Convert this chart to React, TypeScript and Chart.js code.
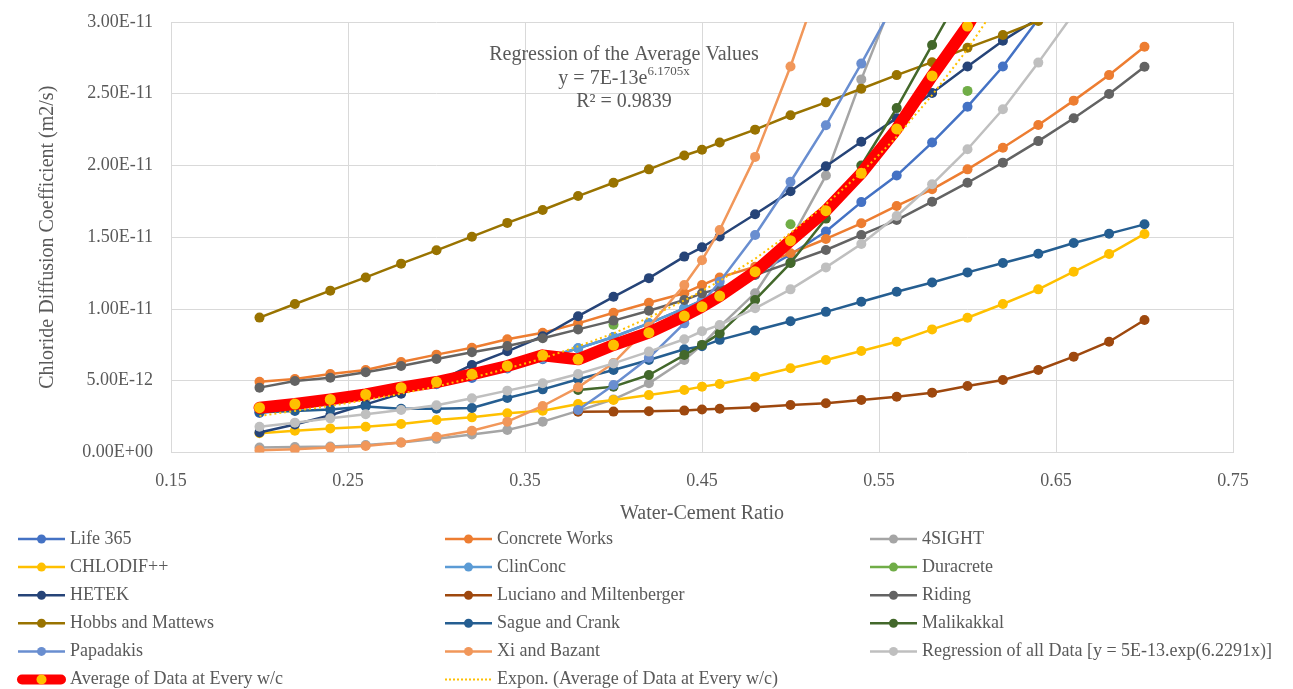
import React, { useEffect, useRef } from "react";
import { Chart, registerables } from "chart.js";
Chart.register(...registerables);

// Water-cement ratios (x values of every series)
const wc = [0.2, 0.22, 0.24, 0.26, 0.28, 0.3, 0.32, 0.34, 0.36, 0.38, 0.4, 0.42, 0.44, 0.45, 0.46, 0.48, 0.5, 0.52, 0.54, 0.56, 0.58, 0.6, 0.62, 0.64, 0.66, 0.68, 0.7];

// Chloride diffusion coefficient values, in units of 1E-12 m2/s
const UNIT = 1e-12;
const life365 = [2.75, 3.05, 3.4, 3.8, 4.25, 4.75, 5.2, 5.85, 6.5, 7.26, 8.05, 9.0, 10.05, 10.6, 11.2, 12.4, 13.8, 15.4, 17.45, 19.3, 21.6, 24.1, 26.9, 30.2, null, null, null];
const concreteWorks = [4.93, 5.12, 5.47, 5.75, 6.31, 6.82, 7.3, 7.89, 8.35, 9.0, 9.74, 10.44, 11.1, 11.67, 12.2, 12.95, 13.88, 14.88, 15.97, 17.18, 18.34, 19.73, 21.24, 22.82, 24.52, 26.3, 28.28];
const fourSight = [0.35, 0.38, 0.42, 0.52, 0.7, 0.95, 1.25, 1.57, 2.15, 2.9, 3.7, 4.82, 6.45, 7.5, 8.77, 11.1, 14.8, 19.3, 26.0, 32.2, null, null, null, null, null, null, null];
const chlodif = [1.34, 1.52, 1.68, 1.8, 1.99, 2.26, 2.45, 2.73, 2.91, 3.38, 3.66, 4.0, 4.36, 4.59, 4.77, 5.28, 5.87, 6.45, 7.07, 7.72, 8.58, 9.39, 10.35, 11.37, 12.6, 13.83, 15.23];
const clinConc = [2.9, 3.2, 3.55, 3.95, 4.4, 4.85, 5.35, 5.9, 6.55, 7.26, 8.05, 9.0, 10.05, 10.6, null, null, null, null, null, null, null, null, null, null, null, null, null];
const duracrete = [null, null, null, null, null, null, null, null, null, null, 8.9, null, null, null, null, null, 15.9, null, null, null, null, 25.2, null, null, null, null, null];
const hetek = [1.4, 1.95, 2.6, 3.35, 4.1, 4.9, 6.1, 7.05, 8.1, 9.5, 10.85, 12.15, 13.65, 14.3, 15.05, 16.6, 18.2, 19.95, 21.65, 23.3, 25.05, 26.9, 28.7, 30.25, null, null, null];
const luciano = [null, null, null, null, null, null, null, null, null, 2.84, 2.85, 2.88, 2.92, 3.0, 3.05, 3.15, 3.31, 3.43, 3.66, 3.89, 4.17, 4.63, 5.05, 5.75, 6.68, 7.72, 9.23];
const riding = [4.52, 4.98, 5.21, 5.59, 6.03, 6.52, 6.98, 7.42, 7.96, 8.58, 9.19, 9.88, 10.63, 11.09, 11.44, 12.37, 13.23, 14.11, 15.16, 16.2, 17.48, 18.8, 20.2, 21.7, 23.29, 24.98, 26.88];
const hobbs = [9.4, 10.35, 11.28, 12.2, 13.16, 14.09, 15.04, 16.0, 16.9, 17.87, 18.8, 19.73, 20.7, 21.1, 21.6, 22.5, 23.5, 24.4, 25.35, 26.3, 27.2, 28.2, 29.1, 30.07, 31.0, null, null];
const sague = [2.8, 2.9, 3.0, 3.2, 3.05, 3.05, 3.1, 3.8, 4.4, 5.1, 5.75, 6.45, 7.2, 7.4, 7.85, 8.5, 9.15, 9.8, 10.5, 11.2, 11.85, 12.55, 13.2, 13.85, 14.6, 15.25, 15.9];
const malikakkal = [null, null, null, null, null, null, null, null, null, 4.36, 4.59, 5.4, 6.79, 7.5, 8.3, 10.63, 13.2, 16.3, 20.0, 24.0, 28.4, 32.8, null, null, null, null, null];
const papadakis = [null, null, null, null, null, null, null, null, null, 2.96, 4.7, 6.6, 9.0, 10.4, 11.9, 15.16, 18.87, 22.8, 27.1, 31.6, null, null, null, null, null, null, null];
const xiBazant = [0.15, 0.22, 0.34, 0.45, 0.69, 1.1, 1.52, 2.15, 3.24, 4.54, 6.24, 8.77, 11.67, 13.4, 15.5, 20.6, 26.9, 34.0, null, null, null, null, null, null, null, null, null];
const regressionAll = [1.8, 2.08, 2.38, 2.66, 2.96, 3.29, 3.78, 4.31, 4.82, 5.47, 6.21, 7.03, 7.89, 8.45, 8.89, 10.05, 11.37, 12.9, 14.53, 16.48, 18.69, 21.13, 23.92, 27.17, 30.6, null, null];
const average = [3.12, 3.38, 3.7, 4.05, 4.52, 4.91, 5.45, 6.03, 6.77, 6.49, 7.49, 8.35, 9.51, 10.16, 10.9, 12.6, 14.76, 16.85, 19.46, 22.55, 26.24, 29.72, 34.0, null, null, null, null];
const averageTrend = [2.55, 2.9, 3.25, 3.65, 4.1, 4.6, 5.2, 5.85, 6.55, 7.4, 8.3, 9.4, 10.6, 11.25, 11.95, 13.5, 15.3, 17.3, 19.5, 22.0, 24.9, 28.1, 31.8, null, null, null, null];

// Axis ticks
const xTicks = [0.15, 0.25, 0.35, 0.45, 0.55, 0.65, 0.75];
const yTicks = [0, 5e-12, 1e-11, 1.5e-11, 2e-11, 2.5e-11, 3e-11];

const seriesNames = [
  "Life 365", "Concrete Works", "4SIGHT",
  "CHLODIF++", "ClinConc", "Duracrete",
  "HETEK", "Luciano and Miltenberger", "Riding",
  "Hobbs and Mattews", "Sague and Crank", "Malikakkal",
  "Papadakis", "Xi and Bazant", "Regression of all Data [y = 5E-13.exp(6.2291x)]",
  "Average of Data at Every w/c", "Expon. (Average of Data at Every w/c)",
];
const seriesValues = [
  life365, concreteWorks, fourSight,
  chlodif, clinConc, duracrete,
  hetek, luciano, riding,
  hobbs, sague, malikakkal,
  papadakis, xiBazant, regressionAll,
  average, averageTrend,
];
const seriesColors = [
  "#4472C4", "#ED7D31", "#A5A5A5",
  "#FFC000", "#5B9BD5", "#70AD47",
  "#264478", "#9E480E", "#636363",
  "#997300", "#255E91", "#43682B",
  "#698ED0", "#F1975A", "#BFBFBF",
  "#FF0000", "#FFC000",
];
const AVG_MARKER = "#FFC000";

const annotationTitle = "Regression of the Average Values";
const annotationEqBase = "y = 7E-13e";
const annotationEqExp = "6.1705x";
const annotationR2 = "R² = 0.9839";

const FONT = '"Liberation Serif", "Times New Roman", serif';
const TEXT = "#595959";

function fmtSci(v: number) {
  if (v === 0) return "0.00E+00";
  const s = v.toExponential(2);
  const [m, e] = s.split("e");
  const sign = e[0] === "-" ? "-" : "+";
  const digits = e.replace(/[+-]/, "").padStart(2, "0");
  return m + "E" + sign + digits;
}

const overlayPlugin = {
  id: "overlay",
  afterDraw(chart: any) {
    const ctx = chart.ctx as CanvasRenderingContext2D;
    ctx.save();
    // Annotation
    ctx.fillStyle = TEXT;
    ctx.textBaseline = "middle";
    ctx.textAlign = "center";
    ctx.font = `20px ${FONT}`;
    const cx = 624;
    ctx.fillText(annotationTitle, cx, 55);
    ctx.fillText(annotationR2, cx, 102);
    ctx.textAlign = "left";
    const wBase = ctx.measureText(annotationEqBase).width;
    ctx.font = `13px ${FONT}`;
    const wExp = ctx.measureText(annotationEqExp).width;
    const sx = cx - (wBase + wExp) / 2;
    ctx.font = `20px ${FONT}`;
    ctx.fillText(annotationEqBase, sx, 79);
    ctx.font = `13px ${FONT}`;
    ctx.fillText(annotationEqExp, sx + wBase, 72);

    // Legend
    const colX = [18, 445, 870];
    const rowY0 = 539;
    const rowGap = 28.1;
    const lineLen = 47;
    ctx.font = `18px ${FONT}`;
    ctx.textAlign = "left";
    seriesNames.forEach((name, i) => {
      const r = Math.floor(i / 3);
      const c = i % 3;
      const x0 = colX[c];
      const y = rowY0 + r * rowGap;
      const color = seriesColors[i];
      ctx.setLineDash([]);
      if (i === 15) {
        ctx.strokeStyle = color;
        ctx.lineWidth = 10;
        ctx.lineCap = "round";
        ctx.beginPath();
        ctx.moveTo(x0 + 4, y);
        ctx.lineTo(x0 + lineLen - 4, y);
        ctx.stroke();
        ctx.fillStyle = AVG_MARKER;
        ctx.beginPath();
        ctx.arc(x0 + lineLen / 2, y, 5, 0, Math.PI * 2);
        ctx.fill();
      } else if (i === 16) {
        ctx.strokeStyle = color;
        ctx.lineWidth = 2;
        ctx.lineCap = "butt";
        ctx.setLineDash([2, 2]);
        ctx.beginPath();
        ctx.moveTo(x0, y);
        ctx.lineTo(x0 + lineLen, y);
        ctx.stroke();
        ctx.setLineDash([]);
      } else {
        ctx.strokeStyle = color;
        ctx.lineWidth = 2.5;
        ctx.lineCap = "butt";
        ctx.beginPath();
        ctx.moveTo(x0, y);
        ctx.lineTo(x0 + lineLen, y);
        ctx.stroke();
        ctx.fillStyle = color;
        ctx.beginPath();
        ctx.arc(x0 + lineLen / 2, y, 4.5, 0, Math.PI * 2);
        ctx.fill();
      }
      ctx.fillStyle = TEXT;
      ctx.fillText(name, x0 + lineLen + 5, y);
    });
    ctx.restore();
  },
};

export default function App() {
  const ref = useRef<HTMLCanvasElement>(null);
  useEffect(() => {
    document.body.style.margin = "0";
    const canvas = ref.current!;
    const n = seriesValues.length;
    const datasets = seriesValues.map((vals, i) => {
      const data = wc.map((x, k) => ({ x, y: vals[k] == null ? null : (vals[k] as number) * UNIT }));
      const color = seriesColors[i];
      const base: any = {
        label: seriesNames[i],
        data,
        borderColor: color,
        backgroundColor: color,
        pointBackgroundColor: color,
        pointBorderColor: color,
        borderWidth: 2.5,
        pointRadius: 5,
        pointBorderWidth: 0,
        pointHoverRadius: 5,
        borderJoinStyle: "round",
        borderCapStyle: "round",
        spanGaps: false,
        fill: false,
        clip: 0,
        order: n - i,
      };
      if (i === 15) {
        base.borderWidth = 12;
        base.pointRadius = 5.5;
        base.pointBackgroundColor = AVG_MARKER;
        base.pointBorderColor = AVG_MARKER;
      }
      if (i === 16) {
        base.borderWidth = 2;
        base.borderDash = [2, 3];
        base.borderCapStyle = "butt";
        base.pointRadius = 0;
        base.pointHoverRadius = 0;
      }
      return base;
    });

    const chart = new Chart(canvas, {
      type: "line",
      data: { datasets },
      plugins: [overlayPlugin],
      options: {
        animation: false,
        responsive: false,
        events: [],
        layout: { padding: { left: 32, right: 60, top: 22, bottom: 159 } },
        plugins: { legend: { display: false }, tooltip: { enabled: false } },
        scales: {
          x: {
            type: "linear",
            min: 0.15,
            max: 0.75,
            afterBuildTicks: (s: any) => { s.ticks = xTicks.map((v) => ({ value: v })); },
            afterFit: (s: any) => { s.height = 77.5; s.paddingLeft = 0; s.paddingRight = 0; },
            ticks: {
              callback: (v: any) => Number(v).toFixed(2),
              font: { family: FONT, size: 18 },
              color: TEXT,
              padding: 18,
              maxRotation: 0,
            },
            grid: { color: "#D9D9D9", lineWidth: 1, drawTicks: false },
            border: { display: false },
            title: {
              display: true,
              text: "Water-Cement Ratio",
              font: { family: FONT, size: 20 },
              color: TEXT,
              padding: { top: 4, bottom: 4 },
            },
          },
          y: {
            type: "linear",
            min: 0,
            max: 3e-11,
            afterBuildTicks: (s: any) => { s.ticks = yTicks.map((v) => ({ value: v })); },
            afterFit: (s: any) => { s.width = 139; s.paddingTop = 0; s.paddingBottom = 0; },
            ticks: {
              callback: (v: any) => fmtSci(Number(v)),
              font: { family: FONT, size: 18 },
              color: TEXT,
              padding: 18,
            },
            grid: { color: "#D9D9D9", lineWidth: 1, drawTicks: false },
            border: { display: false },
            title: {
              display: true,
              text: "Chloride Diffusion Coefficient (m2/s)",
              font: { family: FONT, size: 20 },
              color: TEXT,
              padding: { top: 4, bottom: 4 },
            },
          },
        },
      } as any,
    });
    return () => chart.destroy();
  }, []);
  return (
    <div style={{ width: 1293, height: 689 }}>
      <canvas ref={ref} width={1293} height={689} />
    </div>
  );
}
